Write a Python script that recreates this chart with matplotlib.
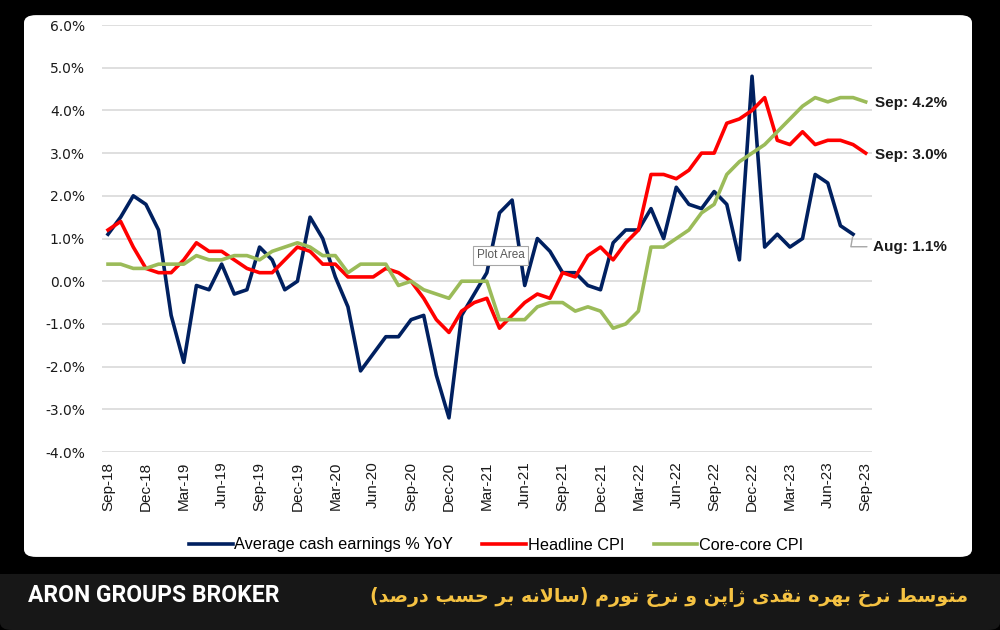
import numpy as np
import matplotlib
matplotlib.use('Agg')
import matplotlib.pyplot as plt
from matplotlib.patches import FancyBboxPatch, Rectangle

# داده ها: Sep-18 ... Sep-23 (ماهانه)
earnings = [1.1, 1.5, 2.0, 1.8,
            1.2, -0.8, -1.9, -0.1, -0.2, 0.4, -0.3, -0.2, 0.8, 0.5, -0.2, 0.0,
            1.5, 1.0, 0.1, -0.6, -2.1, -1.7, -1.3, -1.3, -0.9, -0.8, -2.2, -3.2,
            -0.8, -0.3, 0.2, 1.6, 1.9, -0.1, 1.0, 0.7, 0.2, 0.2, -0.1, -0.2,
            0.9, 1.2, 1.2, 1.7, 1.0, 2.2, 1.8, 1.7, 2.1, 1.8, 0.5, 4.8,
            0.8, 1.1, 0.8, 1.0, 2.5, 2.3, 1.3, 1.1]
headline = [1.2, 1.4, 0.8, 0.3,
            0.2, 0.2, 0.5, 0.9, 0.7, 0.7, 0.5, 0.3, 0.2, 0.2, 0.5, 0.8,
            0.7, 0.4, 0.4, 0.1, 0.1, 0.1, 0.3, 0.2, 0.0, -0.4, -0.9, -1.2,
            -0.7, -0.5, -0.4, -1.1, -0.8, -0.5, -0.3, -0.4, 0.2, 0.1, 0.6, 0.8,
            0.5, 0.9, 1.2, 2.5, 2.5, 2.4, 2.6, 3.0, 3.0, 3.7, 3.8, 4.0,
            4.3, 3.3, 3.2, 3.5, 3.2, 3.3, 3.3, 3.2, 3.0]
corecore = [0.4, 0.4, 0.3, 0.3,
            0.4, 0.4, 0.4, 0.6, 0.5, 0.5, 0.6, 0.6, 0.5, 0.7, 0.8, 0.9,
            0.8, 0.6, 0.6, 0.2, 0.4, 0.4, 0.4, -0.1, 0.0, -0.2, -0.3, -0.4,
            0.0, 0.0, 0.0, -0.9, -0.9, -0.9, -0.6, -0.5, -0.5, -0.7, -0.6, -0.7,
            -1.1, -1.0, -0.7, 0.8, 0.8, 1.0, 1.2, 1.6, 1.8, 2.5, 2.8, 3.0,
            3.2, 3.5, 3.8, 4.1, 4.3, 4.2, 4.3, 4.3, 4.2]
tick_labels = ['Sep-18', 'Dec-18', 'Mar-19', 'Jun-19', 'Sep-19', 'Dec-19', 'Mar-20',
               'Jun-20', 'Sep-20', 'Dec-20', 'Mar-21', 'Jun-21', 'Sep-21', 'Dec-21',
               'Mar-22', 'Jun-22', 'Sep-22', 'Dec-22', 'Mar-23', 'Jun-23', 'Sep-23']
title_fa = 'متوسط نرخ بهره نقدی ژاپن و نرخ تورم (سالانه بر حسب درصد)'


# matplotlib حروف فارسی را به هم نمی چسباند، پس دستی شکل دهی میکنیم
def shape_fa(text):
    forms = {
        'ا': ['\ufe8d', '\ufe8e'],
        'ب': ['\ufe8f', '\ufe90', '\ufe91', '\ufe92'],
        'پ': ['\ufb56', '\ufb57', '\ufb58', '\ufb59'],
        'ت': ['\ufe95', '\ufe96', '\ufe97', '\ufe98'],
        'ح': ['\ufea1', '\ufea2', '\ufea3', '\ufea4'],
        'خ': ['\ufea5', '\ufea6', '\ufea7', '\ufea8'],
        'د': ['\ufea9', '\ufeaa'],
        'ر': ['\ufead', '\ufeae'],
        'ژ': ['\ufb8a', '\ufb8b'],
        'س': ['\ufeb1', '\ufeb2', '\ufeb3', '\ufeb4'],
        'ص': ['\ufeb9', '\ufeba', '\ufebb', '\ufebc'],
        'ط': ['\ufec1', '\ufec2', '\ufec3', '\ufec4'],
        'ق': ['\ufed5', '\ufed6', '\ufed7', '\ufed8'],
        'ل': ['\ufedd', '\ufede', '\ufedf', '\ufee0'],
        'م': ['\ufee1', '\ufee2', '\ufee3', '\ufee4'],
        'ن': ['\ufee5', '\ufee6', '\ufee7', '\ufee8'],
        'ه': ['\ufee9', '\ufeea', '\ufeeb', '\ufeec'],
        'و': ['\ufeed', '\ufeee'],
        'ی': ['\ufbfc', '\ufbfd', '\ufbfe', '\ufbff'],
    }
    chars = list(text)
    out = []
    i = 0
    while i < len(chars):
        c = chars[i]
        if c not in forms:
            out.append(c)
            i += 1
            continue
        prev = chars[i - 1] if i > 0 else ''
        join_prev = prev in forms and len(forms[prev]) == 4
        if c == 'ل' and i + 1 < len(chars) and chars[i + 1] == 'ا':
            out.append('\ufefc' if join_prev else '\ufefb')
            i += 2
            continue
        nxt = chars[i + 1] if i + 1 < len(chars) else ''
        join_next = len(forms[c]) == 4 and nxt in forms
        f = forms[c]
        if join_prev and join_next:
            out.append(f[3])
        elif join_prev:
            out.append(f[1])
        elif join_next:
            out.append(f[2])
        else:
            out.append(f[0])
        i += 1
    s = ''.join(reversed(out))
    return s.translate(str.maketrans('()', ')('))


fig = plt.figure(figsize=(10, 6.3), dpi=100, facecolor='black')

# کادر سفید
panel = FancyBboxPatch((0.024, 0.116), 0.948, 0.860,
                       boxstyle='round,pad=0,rounding_size=0.012',
                       transform=fig.transFigure, fc='white', ec='none', zorder=-5)
fig.patches.append(panel)

# نوار پایین
banner = FancyBboxPatch((0.0, 0.0), 1.0, 0.089,
                        boxstyle='round,pad=0,rounding_size=0.012',
                        transform=fig.transFigure, fc='#171717', ec='none', zorder=-5)
fig.patches.append(banner)
fig.patches.append(Rectangle((0.0, 0.05), 1.0, 0.039, transform=fig.transFigure,
                             fc='#171717', ec='none', zorder=-5))

ax = fig.add_axes([0.1017, 0.2825, 0.7703, 0.6778])
ax.set_facecolor('none')
ax.set_zorder(2)

x_e = np.arange(len(earnings))
x_c = np.arange(len(headline))
ax.plot(x_e, earnings, color='#002060', lw=2.6, solid_joinstyle='round',
        label='Average cash earnings % YoY')
ax.plot(x_c, headline, color='#FF0000', lw=2.6, solid_joinstyle='round',
        label='Headline CPI')
ax.plot(x_c, corecore, color='#9BBB59', lw=2.6, solid_joinstyle='round',
        label='Core-core CPI')

ax.set_xlim(-0.5, len(headline) - 0.5)
ax.set_ylim(-4, 6)
yt = np.arange(-4, 7)
ax.set_yticks(yt)
ax.set_yticklabels(['%.1f%%' % v for v in yt], fontsize=10, color='#1a1a1a',
                   family='DejaVu Sans')
ax.set_xticks(np.arange(0, len(headline), 3))
ax.set_xticklabels(tick_labels, rotation=90, fontsize=11, color='#1a1a1a',
                   family='Liberation Sans')
ax.tick_params(axis='both', length=0)
ax.tick_params(axis='y', pad=12)
ax.tick_params(axis='x', pad=7)
ax.grid(axis='y', color='#d9d9d9', lw=1.2)
ax.set_axisbelow(True)
for sp in ax.spines.values():
    sp.set_visible(False)

# برچسب آخرین مقادیر
ax.annotate('Sep: %.1f%%' % corecore[-1], (len(corecore) - 1, corecore[-1]),
            xytext=(7, -1), textcoords='offset points', va='center', ha='left',
            fontsize=11, fontweight='bold', family='Liberation Sans',
            color='#1a1a1a', annotation_clip=False)
ax.annotate('Sep: %.1f%%' % headline[-1], (len(headline) - 1, headline[-1]),
            xytext=(7, -1), textcoords='offset points', va='center', ha='left',
            fontsize=11, fontweight='bold', family='Liberation Sans',
            color='#1a1a1a', annotation_clip=False)
ax.annotate('Aug: %.1f%%' % earnings[-1], (len(earnings) - 1, earnings[-1]),
            xytext=(14, -9), textcoords='offset points', va='center', ha='left',
            fontsize=11, fontweight='bold', family='Liberation Sans',
            color='#1a1a1a', annotation_clip=False,
            arrowprops=dict(arrowstyle='-', color='#a6a6a6', lw=1,
                            connectionstyle='angle,angleA=0,angleB=80,rad=0',
                            shrinkA=2, shrinkB=2))

# تولتیپ اکسل
ax.text(0.5005, 1 - 255.5 / 630, 'Plot Area', transform=fig.transFigure,
        ha='center', va='center', fontsize=8.5, color='#595959',
        family='Liberation Sans', zorder=10,
        bbox=dict(boxstyle='square,pad=0.3', fc='white', ec='#a6a6a6', lw=0.8))

fig.legend(loc='center', bbox_to_anchor=(0.496, 1 - 545 / 630), ncol=3,
           frameon=False, handlelength=2.7, handletextpad=0.1, columnspacing=1.8,
           prop={'family': 'Liberation Sans', 'size': 11.7})

fig.text(0.028, 1 - 596 / 630, 'ARON GROUPS BROKER', ha='left', va='center',
         fontsize=16.5, fontweight='bold', color='white', family='Roboto')
fig.text(0.968, 1 - 597 / 630, shape_fa(title_fa), ha='right', va='center',
         fontsize=13.7, fontweight='bold', color='#F5C242', family='DejaVu Sans')

fig.savefig('out.png', dpi=100, facecolor='black')
